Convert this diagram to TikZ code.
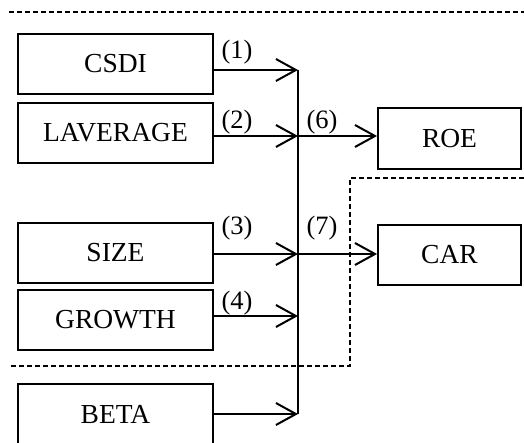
\documentclass[tikz,border=0pt]{standalone}
\usepackage{fontspec}
\setmainfont{Liberation Serif}
\usetikzlibrary{arrows.meta}
\begin{document}
\begin{tikzpicture}[x=1pt,y=-1pt,
  box/.style={draw,line width=1.9pt,inner sep=0pt,font=\fontsize{27.5}{30}\selectfont},
  lbox/.style={box,minimum width=195pt,minimum height=60pt},
  rbox/.style={box,minimum width=143pt,minimum height=60pt},
  lab/.style={font=\fontsize{26.5}{30}\selectfont,inner sep=0pt},
  conn/.style={line width=2pt,-{Straight Barb[length=20pt,width=22pt,line width=2pt]}},
  dash line/.style={line width=1.6pt,dash pattern=on 5pt off 3pt}]
\useasboundingbox (0,0) rectangle (524,443);
\node[lbox] (csdi) at (115.5,64) {CSDI};
\node[lbox] (lav) at (115.5,133) {LAVERAGE};
\node[lbox] (size) at (115.5,253) {SIZE};
\node[lbox] (growth) at (115.5,320) {GROWTH};
\node[lbox] (beta) at (115.5,414) {BETA};
\node[rbox,minimum height=61pt] (roe) at (449.5,138.5) {ROE};
\node[rbox] (car) at (449.5,255) {CAR};
\coordinate (j1) at (298,70);
\coordinate (j2) at (298,136);
\coordinate (j3) at (298,254);
\coordinate (j4) at (298,316);
\coordinate (j5) at (298,414);
\draw[line width=2pt] (j1) -- (j5);
\draw[conn] (csdi.east |- j1) -- (j1);
\draw[conn] (lav.east |- j2) -- (j2);
\draw[conn] (size.east |- j3) -- (j3);
\draw[conn] (growth.east |- j4) -- (j4);
\draw[conn] (beta.east |- j5) -- (j5);
\draw[conn] (j2) -- (roe.west |- j2);
\draw[conn] (j3) -- (car.west |- j3);
\node[lab] (l1) at (237,52.5) {(1)};
\node[lab] (l2) at (237,122) {(2)};
\node[lab] (l6) at (322,122) {(6)};
\node[lab] (l3) at (237,228.5) {(3)};
\node[lab] (l7) at (322,228.5) {(7)};
\node[lab] (l4) at (237,303) {(4)};
\coordinate (d1) at (9,12);
\coordinate (d2) at (524,12);
\draw[dash line] (d1) -- (d2);
\coordinate (e1) at (524,178);
\coordinate (e2) at (350,178);
\coordinate (e3) at (350,366);
\coordinate (e4) at (9,366);
\draw[dash line] (e1) -- (e2) -- (e3) -- (e4);
\end{tikzpicture}
\end{document}
